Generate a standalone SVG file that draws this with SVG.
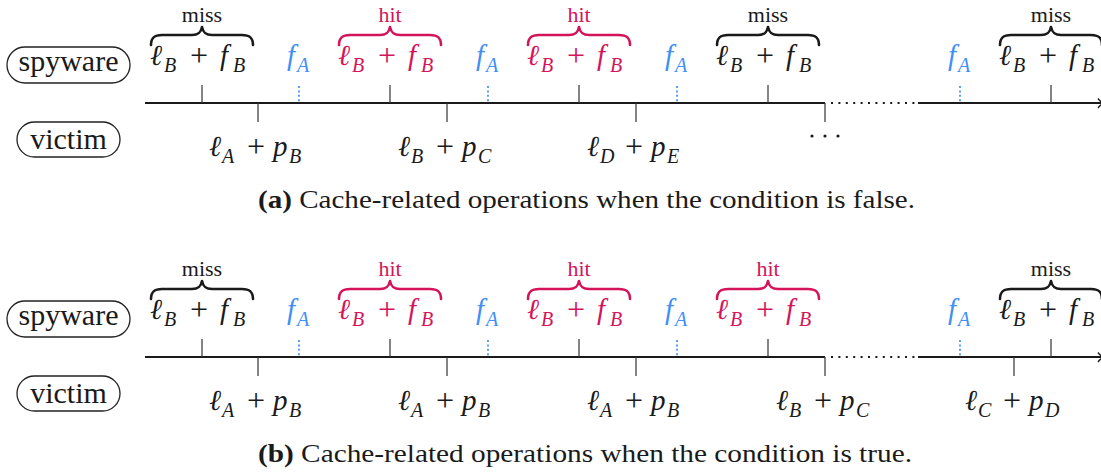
<svg xmlns="http://www.w3.org/2000/svg" xmlns:xlink="http://www.w3.org/1999/xlink" width="1101" height="473" viewBox="0 0 1101 473" font-family="Liberation Serif">
<defs>
<path id="brace" d="M-51,18 C-51,10 -47,8 -40,8 L-10,8 C-3,8 -1,5 0,0 C1,5 3,8 10,8 L40,8 C47,8 51,10 51,18"/>
<g id="lBfB"><text font-family="Liberation Serif" font-size="29"><tspan x="-52" y="0" font-style="italic">ℓ</tspan><tspan x="-38" y="7" font-size="20" font-style="italic">B</tspan><tspan x="-12" y="1" font-size="32">+</tspan><tspan x="18" y="0" font-style="italic">f</tspan><tspan x="31" y="7" font-size="20" font-style="italic">B</tspan></text></g>
<g id="fA"><text font-family="Liberation Serif" font-size="29"><tspan x="-12" y="0" font-style="italic">f</tspan><tspan x="-2" y="7" font-size="20" font-style="italic">A</tspan></text></g>
<g id="box-spy"><rect x="7" y="47" width="123" height="36" rx="18" fill="none" stroke="#222" stroke-width="1.3"/><text font-family="Liberation Serif" x="68.5" y="71" font-size="30" text-anchor="middle" fill="#1a1a1a">spyware</text></g>
<g id="box-vic"><rect x="17" y="122" width="103" height="35" rx="17.5" fill="none" stroke="#222" stroke-width="1.3"/><text font-family="Liberation Serif" x="68.5" y="149" font-size="30" text-anchor="middle" fill="#1a1a1a">victim</text></g>
<g id="axis">
<path d="M145,103 H825 M918,103 H1101" stroke="#1a1a1a" stroke-width="2" fill="none"/>
<path d="M831,103 H918" stroke="#1a1a1a" stroke-width="2.2" stroke-dasharray="2 5.4"/>
<path d="M1098,98.5 Q1100.5,102 1104,103.3 M1098,108 Q1100.5,104.5 1104,103.3" fill="none" stroke="#1a1a1a" stroke-width="1.3"/>
<path d="M202,85 V103 M390,85 V103 M579,85 V103 M768,85 V103 M1051,85 V103" stroke="#333" stroke-width="1.2"/>
<path d="M299,86 V103 M488,86 V103 M677,86 V103 M960,86 V103" stroke="#3F8FF5" stroke-width="1.7" stroke-dasharray="2 2.4"/>
</g>
</defs>

<!-- Panel (a) -->
<g id="panel-a">
<g id="a-spyware"><use xlink:href="#box-spy"/></g>
<g id="a-victim"><use xlink:href="#box-vic"/></g>

<g id="a-connectors">
<use xlink:href="#axis"/>
<path d="M258,103 V122 M447,103 V122 M636,103 V122 M825,103 V122" stroke="#333" stroke-width="1.2"/>
</g>

<g id="a-braces" fill="none" stroke-width="2.6" stroke-linecap="round" stroke-linejoin="round">
<use xlink:href="#brace" stroke="#1a1a1a" transform="translate(202,27)"/>
<use xlink:href="#brace" stroke="#D4145A" transform="translate(390,27)"/>
<use xlink:href="#brace" stroke="#D4145A" transform="translate(579,27)"/>
<use xlink:href="#brace" stroke="#1a1a1a" transform="translate(768,27)"/>
<use xlink:href="#brace" stroke="#1a1a1a" transform="translate(1051,27)"/>
</g>
<g id="a-tags" font-family="Liberation Serif" font-size="22" text-anchor="middle">
<text x="202" y="22" fill="#1a1a1a">miss</text>
<text x="390" y="22" fill="#D4145A">hit</text>
<text x="579" y="22" fill="#D4145A">hit</text>
<text x="768" y="22" fill="#1a1a1a">miss</text>
<text x="1051" y="22" fill="#1a1a1a">miss</text>
</g>
<g id="a-op1"><use xlink:href="#lBfB" fill="#1a1a1a" transform="translate(202,65)"/></g>
<g id="a-f1"><use xlink:href="#fA" fill="#3F8FF5" transform="translate(299,65)"/></g>
<g id="a-op2"><use xlink:href="#lBfB" fill="#D4145A" transform="translate(390,65)"/></g>
<g id="a-f2"><use xlink:href="#fA" fill="#3F8FF5" transform="translate(488,65)"/></g>
<g id="a-op3"><use xlink:href="#lBfB" fill="#D4145A" transform="translate(579,65)"/></g>
<g id="a-f3"><use xlink:href="#fA" fill="#3F8FF5" transform="translate(677,65)"/></g>
<g id="a-op4"><use xlink:href="#lBfB" fill="#1a1a1a" transform="translate(768,65)"/></g>
<g id="a-f4"><use xlink:href="#fA" fill="#3F8FF5" transform="translate(960,65)"/></g>
<g id="a-op5"><use xlink:href="#lBfB" fill="#1a1a1a" transform="translate(1051,65)"/></g>

<g id="a-victim-ops" font-family="Liberation Serif" font-size="29" fill="#1a1a1a">
<text transform="translate(258,156)"><tspan x="-49" y="0" font-style="italic">ℓ</tspan><tspan x="-36" y="7" font-size="20" font-style="italic">A</tspan><tspan x="-11" y="1" font-size="32">+</tspan><tspan x="15" y="0" font-style="italic">p</tspan><tspan x="31" y="7" font-size="20" font-style="italic">B</tspan></text>
<text transform="translate(447,156)"><tspan x="-49" y="0" font-style="italic">ℓ</tspan><tspan x="-36" y="7" font-size="20" font-style="italic">B</tspan><tspan x="-11" y="1" font-size="32">+</tspan><tspan x="15" y="0" font-style="italic">p</tspan><tspan x="31" y="7" font-size="20" font-style="italic">C</tspan></text>
<text transform="translate(636,156)"><tspan x="-49" y="0" font-style="italic">ℓ</tspan><tspan x="-36" y="7" font-size="20" font-style="italic">D</tspan><tspan x="-11" y="1" font-size="32">+</tspan><tspan x="15" y="0" font-style="italic">p</tspan><tspan x="31" y="7" font-size="20" font-style="italic">E</tspan></text>
<circle cx="812" cy="136" r="1.6"/><circle cx="825" cy="136" r="1.6"/><circle cx="838" cy="136" r="1.6"/>
</g>

<text font-family="Liberation Serif" x="258" y="208" font-size="25" fill="#1a1a1a" textLength="657" lengthAdjust="spacingAndGlyphs"><tspan font-weight="bold">(a)</tspan> Cache-related operations when the condition is false.</text>
</g>

<!-- Panel (b) -->
<g id="panel-b" transform="translate(0,254)">
<g id="b-spyware"><use xlink:href="#box-spy"/></g>
<g id="b-victim"><use xlink:href="#box-vic"/></g>

<g id="b-connectors">
<use xlink:href="#axis"/>
<path d="M258,103 V122 M447,103 V122 M636,103 V122 M825,103 V122 M1014,103 V122" stroke="#333" stroke-width="1.2"/>
</g>

<g id="b-braces" fill="none" stroke-width="2.6" stroke-linecap="round" stroke-linejoin="round">
<use xlink:href="#brace" stroke="#1a1a1a" transform="translate(202,27)"/>
<use xlink:href="#brace" stroke="#D4145A" transform="translate(390,27)"/>
<use xlink:href="#brace" stroke="#D4145A" transform="translate(579,27)"/>
<use xlink:href="#brace" stroke="#D4145A" transform="translate(768,27)"/>
<use xlink:href="#brace" stroke="#1a1a1a" transform="translate(1051,27)"/>
</g>
<g id="b-tags" font-family="Liberation Serif" font-size="22" text-anchor="middle">
<text x="202" y="22" fill="#1a1a1a">miss</text>
<text x="390" y="22" fill="#D4145A">hit</text>
<text x="579" y="22" fill="#D4145A">hit</text>
<text x="768" y="22" fill="#D4145A">hit</text>
<text x="1051" y="22" fill="#1a1a1a">miss</text>
</g>
<g id="b-op1"><use xlink:href="#lBfB" fill="#1a1a1a" transform="translate(202,65)"/></g>
<g id="b-f1"><use xlink:href="#fA" fill="#3F8FF5" transform="translate(299,65)"/></g>
<g id="b-op2"><use xlink:href="#lBfB" fill="#D4145A" transform="translate(390,65)"/></g>
<g id="b-f2"><use xlink:href="#fA" fill="#3F8FF5" transform="translate(488,65)"/></g>
<g id="b-op3"><use xlink:href="#lBfB" fill="#D4145A" transform="translate(579,65)"/></g>
<g id="b-f3"><use xlink:href="#fA" fill="#3F8FF5" transform="translate(677,65)"/></g>
<g id="b-op4"><use xlink:href="#lBfB" fill="#D4145A" transform="translate(768,65)"/></g>
<g id="b-f4"><use xlink:href="#fA" fill="#3F8FF5" transform="translate(960,65)"/></g>
<g id="b-op5"><use xlink:href="#lBfB" fill="#1a1a1a" transform="translate(1051,65)"/></g>

<g id="b-victim-ops" font-family="Liberation Serif" font-size="29" fill="#1a1a1a">
<text transform="translate(258,156)"><tspan x="-49" y="0" font-style="italic">ℓ</tspan><tspan x="-36" y="7" font-size="20" font-style="italic">A</tspan><tspan x="-11" y="1" font-size="32">+</tspan><tspan x="15" y="0" font-style="italic">p</tspan><tspan x="31" y="7" font-size="20" font-style="italic">B</tspan></text>
<text transform="translate(447,156)"><tspan x="-49" y="0" font-style="italic">ℓ</tspan><tspan x="-36" y="7" font-size="20" font-style="italic">A</tspan><tspan x="-11" y="1" font-size="32">+</tspan><tspan x="15" y="0" font-style="italic">p</tspan><tspan x="31" y="7" font-size="20" font-style="italic">B</tspan></text>
<text transform="translate(636,156)"><tspan x="-49" y="0" font-style="italic">ℓ</tspan><tspan x="-36" y="7" font-size="20" font-style="italic">A</tspan><tspan x="-11" y="1" font-size="32">+</tspan><tspan x="15" y="0" font-style="italic">p</tspan><tspan x="31" y="7" font-size="20" font-style="italic">B</tspan></text>
<text transform="translate(825,156)"><tspan x="-49" y="0" font-style="italic">ℓ</tspan><tspan x="-36" y="7" font-size="20" font-style="italic">B</tspan><tspan x="-11" y="1" font-size="32">+</tspan><tspan x="15" y="0" font-style="italic">p</tspan><tspan x="31" y="7" font-size="20" font-style="italic">C</tspan></text>
<text transform="translate(1014,156)"><tspan x="-49" y="0" font-style="italic">ℓ</tspan><tspan x="-36" y="7" font-size="20" font-style="italic">C</tspan><tspan x="-11" y="1" font-size="32">+</tspan><tspan x="15" y="0" font-style="italic">p</tspan><tspan x="31" y="7" font-size="20" font-style="italic">D</tspan></text>
</g>

<text font-family="Liberation Serif" x="258" y="208" font-size="25" fill="#1a1a1a" textLength="654" lengthAdjust="spacingAndGlyphs"><tspan font-weight="bold">(b)</tspan> Cache-related operations when the condition is true.</text>
</g>
</svg>
